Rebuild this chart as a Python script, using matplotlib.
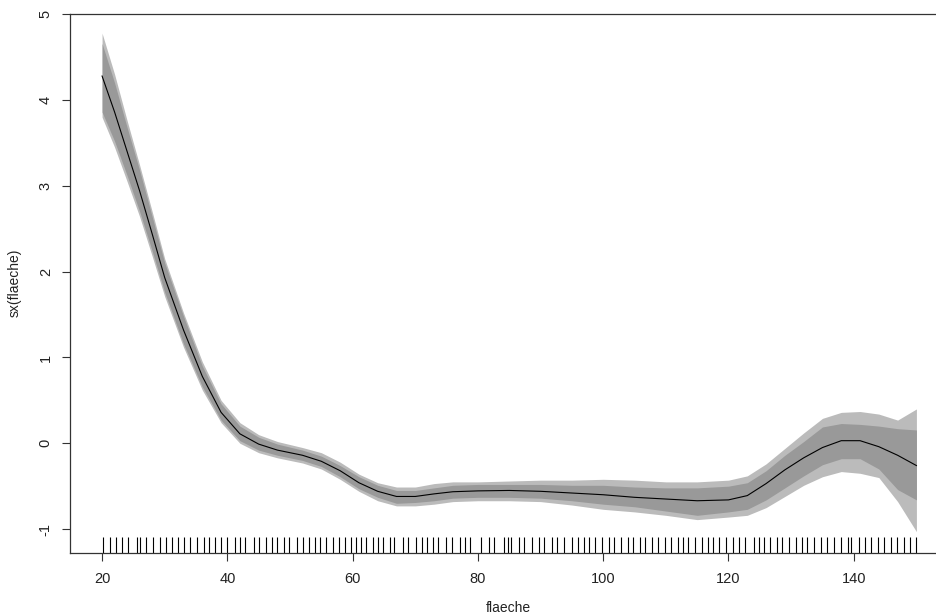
import matplotlib
matplotlib.use("Agg")
import matplotlib.pyplot as plt
import matplotlib.transforms as mtransforms

plt.rcParams['font.family'] = ['Liberation Sans', 'DejaVu Sans']

# smooth term sx(flaeche): knots
flaeche = [20, 22, 24, 26, 28, 30, 33, 36, 39, 42, 45, 48, 52, 55, 58, 61, 64, 67, 70, 73,
           76, 80, 85, 90, 95, 100, 105, 110, 115, 120, 123, 126, 129, 132, 135, 138, 141,
           144, 147, 150]
fit = [4.28, 3.86, 3.40, 2.94, 2.44, 1.93, 1.32, 0.78, 0.36, 0.11, -0.01, -0.08, -0.14,
       -0.21, -0.32, -0.46, -0.56, -0.62, -0.62, -0.59, -0.565, -0.555, -0.55, -0.56,
       -0.58, -0.60, -0.63, -0.65, -0.67, -0.66, -0.61, -0.47, -0.31, -0.17, -0.05, 0.03,
       0.03, -0.04, -0.14, -0.26]
outer_lo = [3.80, 3.45, 3.05, 2.64, 2.18, 1.71, 1.12, 0.62, 0.24, 0.00, -0.11, -0.17, -0.23,
            -0.30, -0.42, -0.56, -0.67, -0.73, -0.73, -0.71, -0.68, -0.67, -0.67, -0.68,
            -0.72, -0.77, -0.80, -0.84, -0.89, -0.86, -0.84, -0.75, -0.62, -0.49, -0.39,
            -0.33, -0.35, -0.40, -0.68, -1.03]
outer_hi = [4.78, 4.30, 3.76, 3.24, 2.70, 2.15, 1.52, 0.95, 0.50, 0.24, 0.10, 0.02, -0.05,
            -0.11, -0.22, -0.36, -0.46, -0.51, -0.51, -0.47, -0.45, -0.45, -0.44, -0.43,
            -0.43, -0.42, -0.43, -0.45, -0.45, -0.43, -0.38, -0.24, -0.06, 0.12, 0.29,
            0.36, 0.37, 0.34, 0.27, 0.40]
inner_lo = [3.86, 3.52, 3.12, 2.70, 2.24, 1.76, 1.16, 0.66, 0.27, 0.03, -0.08, -0.14, -0.20,
            -0.27, -0.39, -0.53, -0.63, -0.70, -0.69, -0.67, -0.64, -0.63, -0.63, -0.64,
            -0.67, -0.71, -0.74, -0.79, -0.84, -0.80, -0.77, -0.66, -0.52, -0.38, -0.25,
            -0.18, -0.18, -0.30, -0.54, -0.66]
inner_hi = [4.66, 4.20, 3.68, 3.18, 2.64, 2.10, 1.48, 0.90, 0.46, 0.20, 0.07, -0.01, -0.08,
            -0.15, -0.26, -0.39, -0.49, -0.55, -0.55, -0.52, -0.49, -0.48, -0.48, -0.48,
            -0.49, -0.49, -0.51, -0.52, -0.52, -0.50, -0.46, -0.32, -0.14, 0.02, 0.19,
            0.23, 0.22, 0.20, 0.17, 0.155]

# observed flaeche values (rug)
rug = [20.2, 21.2, 22.2, 23.2, 24.2, 25.5, 26.1, 27.0, 28.2, 29.3, 30.2, 31.1, 32.1, 33.0,
       34.1, 35.1, 36.2, 37.1, 38.0, 39.0, 40.0, 41.2, 42.0, 42.8, 44.2, 45.1, 46.1, 47.1,
       47.9, 49.0, 49.9, 51.1, 52.0, 53.0, 54.0, 54.8, 55.7, 56.8, 57.8, 58.7, 59.7, 60.6,
       61.4, 62.1, 63.2, 64.1, 64.8, 66.0, 66.6, 68.1, 68.8, 70.1, 71.1, 71.9, 72.8, 73.7,
       74.9, 75.9, 77.2, 77.9, 78.8, 80.5, 81.7, 82.6, 84.1, 84.8, 85.3, 86.5, 87.3, 88.6,
       89.7, 90.5, 91.8, 92.6, 93.7, 95.0, 95.9, 96.9, 97.7, 98.7, 99.8, 100.9, 101.8,
       102.9, 103.9, 104.8, 105.9, 106.7, 107.8, 108.8, 109.9, 110.9, 111.9, 112.8, 113.6,
       114.7, 115.8, 116.8, 117.6, 118.5, 119.6, 120.7, 121.6, 122.7, 124.0, 124.8, 125.6,
       126.7, 127.7, 128.5, 129.6, 130.7, 131.7, 132.6, 133.6, 134.7, 135.7, 136.8, 137.9,
       139.1, 139.6, 140.8, 141.8, 142.8, 143.8, 144.9, 146.0, 146.9, 148.0, 148.9, 150.0]

xticks = [20, 40, 60, 80, 100, 120, 140]
yticks = [-1, 0, 1, 2, 3, 4, 5]

fig = plt.figure(figsize=(9.36, 6.15), dpi=100)
# right edge of the R box falls just outside the picture
ax = fig.add_axes([69.5 / 936, 62 / 615, 879.5 / 936, 539 / 615])

ax.fill_between(flaeche, outer_lo, outer_hi, color='#BBBBBB', lw=0)
ax.fill_between(flaeche, inner_lo, inner_hi, color='#999999', lw=0)
ax.plot(flaeche, fit, color='black', lw=0.8)

trans = mtransforms.blended_transform_factory(ax.transData, ax.transAxes)
ax.vlines(rug, 0, 0.03, transform=trans, color='black', lw=0.8)

ax.set_xlim(14.8, 155.2)
ax.set_ylim(-1.279, 5.003)
ax.set_xticks(xticks)
ax.set_yticks(yticks)
ax.set_yticklabels([str(v) for v in yticks], rotation=90, va='center')

for side in ['left', 'top', 'bottom', 'right']:
    ax.spines[side].set_color('#333333')
    ax.spines[side].set_linewidth(0.9)
ax.tick_params(axis='both', length=6, width=0.8, color='#333333', labelsize=10.5,
               labelcolor='#222222')
ax.tick_params(axis='x', pad=8)
ax.tick_params(axis='y', pad=6)

fig.text(15 / 936, 1 - 283 / 615, 'sx(flaeche)', rotation=90, ha='center', va='center',
         fontsize=10, color='#222222')
fig.text(508 / 936, 1 - 608 / 615, 'flaeche', ha='center', va='center',
         fontsize=10, color='#222222')

fig.savefig('out.png', dpi=100)
